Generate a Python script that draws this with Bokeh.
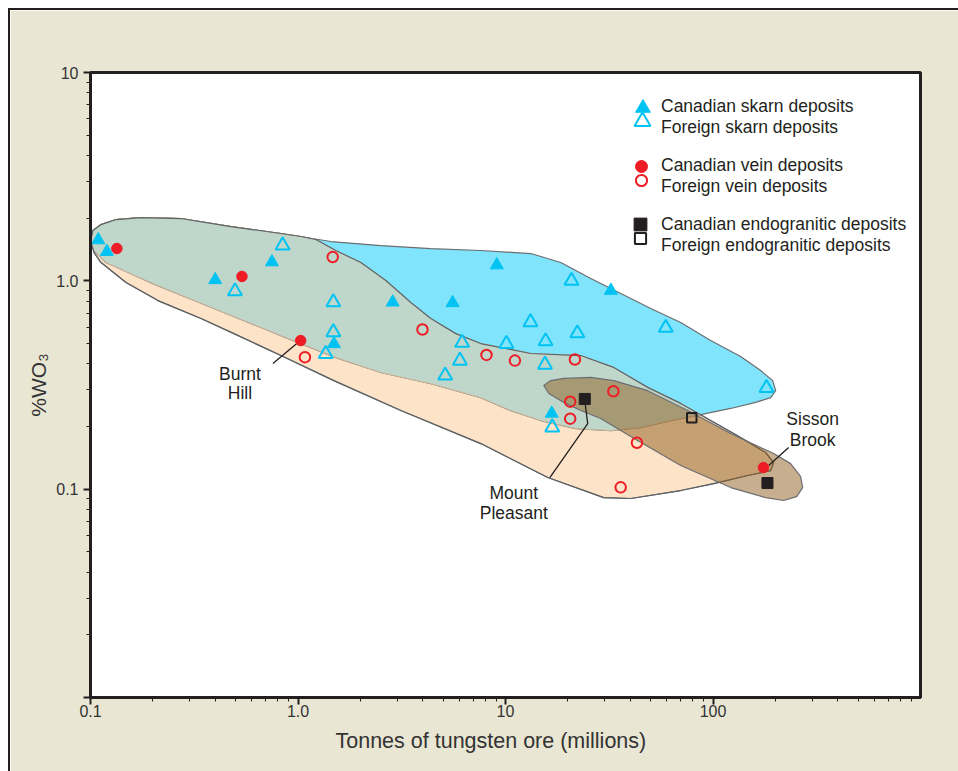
from bokeh.plotting import figure
from bokeh.models import FixedTicker, Legend, LegendItem, Title
from bokeh.core.properties import value
from bokeh.embed import file_html
from bokeh.resources import INLINE

FONT = "Liberation Sans"
INK = "#231f20"

# ---- axis ticks ----
x_major = [0.1, 1, 10, 100]
x_major_labels = ["0.1", "1.0", "10", "100"]
x_minor = [0.2, 0.3, 0.4, 0.5, 0.6, 0.7, 0.8, 0.9,
           2, 3, 4, 5, 6, 7, 8, 9,
           20, 30, 40, 50, 60, 70, 80, 90,
           200, 300, 400, 500, 600, 700, 800, 900]
y_major = [0.01, 0.1, 1, 10]
y_major_labels = ["", "0.1", "1.0", "10"]
y_minor = [0.02, 0.03, 0.04, 0.05, 0.06, 0.07, 0.08, 0.09,
           0.2, 0.3, 0.4, 0.5, 0.6, 0.7, 0.8, 0.9,
           2, 3, 4, 5, 6, 7, 8, 9]

# ---- deposits: tonnes of ore (millions), %WO3 ----
can_skarn_x = [0.109, 0.120, 0.399, 0.749, 1.49, 2.86, 5.56, 9.08, 16.7, 32.2]
can_skarn_y = [1.57, 1.38, 1.01, 1.23, 0.498, 0.789, 0.784, 1.19, 0.231, 0.898]

for_skarn_x = [0.497, 0.843, 1.48, 1.48, 1.36, 5.12, 6.03, 6.18, 10.1, 13.2,
               15.5, 15.6, 16.8, 20.8, 22.2, 59.2, 181]
for_skarn_y = [0.891, 1.48, 0.789, 0.567, 0.446, 0.351, 0.414, 0.504, 0.498, 0.633,
               0.396, 0.513, 0.198, 1.00, 0.560, 0.595, 0.306]

can_vein_x = [0.134, 0.537, 1.03, 175]
can_vein_y = [1.43, 1.05, 0.517, 0.127]

for_vein_x = [1.47, 1.08, 3.98, 8.10, 11.1, 21.6, 20.5, 20.5, 33.1, 43.0, 35.9]
for_vein_y = [1.30, 0.430, 0.584, 0.441, 0.414, 0.419, 0.263, 0.218, 0.295, 0.167, 0.102]

can_endo_x = [24.1, 183]
can_endo_y = [0.271, 0.107]

for_endo_x = [79.0]
for_endo_y = [0.220]

# ---- deposit fields (outlines) ----
skarn_field_x = [0.1, 0.1028, 0.1124, 0.1327, 0.1751, 0.2729, 0.4752, 0.8273, 1.441, 2.507,
                 4.367, 7.603, 13.24, 18.47, 25.76, 35.94, 50.11, 69.88, 97.47, 135.9,
                 169.7, 193.9, 200.5, 189.7, 160.6, 121.7, 87.24, 62.55, 44.85, 32.15,
                 21.81, 14.79, 10.60, 7.603, 4.367, 2.507, 1.522, 0.8745, 0.4159, 0.2000,
                 0.1483, 0.1188, 0.1040]
skarn_field_y = [1.561, 1.744, 1.862, 1.969, 2.013, 1.991, 1.822, 1.687, 1.544, 1.477,
                 1.429, 1.398, 1.352, 1.224, 1.026, 0.869, 0.736, 0.631, 0.517, 0.433,
                 0.371, 0.332, 0.297, 0.275, 0.261, 0.244, 0.2281, 0.2135, 0.1975, 0.1911,
                 0.1953, 0.2135, 0.2384, 0.275, 0.321, 0.363, 0.428, 0.534, 0.720, 0.970,
                 1.108, 1.224, 1.398]

vein_field_x = [0.1, 0.1028, 0.1124, 0.1327, 0.1751, 0.2729, 0.4752, 0.8273, 1.033, 1.219,
                1.522, 2.009, 2.651, 3.498, 4.367, 5.764, 7.603, 13.24, 23.05, 33.24,
                48.46, 69.88, 97.47, 135.9, 179.4, 196.1, 189.7, 146.9, 100.8, 69.88,
                40.13, 29.75, 15.98, 7.603, 3.131, 1.489, 0.8273, 0.4912, 0.3407, 0.2114,
                0.1483, 0.1124, 0.1040]
vein_field_y = [1.561, 1.744, 1.862, 1.969, 2.013, 1.991, 1.822, 1.687, 1.632, 1.579,
                1.398, 1.224, 1.003, 0.787, 0.659, 0.558, 0.500, 0.448, 0.438, 0.384,
                0.308, 0.258, 0.2135, 0.1769, 0.1498, 0.1342, 0.1228, 0.1163, 0.1064, 0.0985,
                0.0902, 0.0911, 0.1137, 0.1655, 0.2384, 0.332, 0.438, 0.558, 0.659, 0.804,
                0.981, 1.224, 1.367]

overlap_field_x = [0.1, 0.1028, 0.1124, 0.1327, 0.1751, 0.2729, 0.4752, 0.8273, 1.033, 1.219,
                   1.522, 2.009, 2.651, 3.498, 4.367, 5.764, 7.603, 13.24, 23.05, 33.24,
                   48.46, 69.88, 87.24, 62.55, 44.85, 32.15, 21.81, 14.79, 10.60, 7.603,
                   4.367, 2.507, 1.522, 0.8745, 0.4159, 0.2000, 0.1483, 0.1188, 0.1040]
overlap_field_y = [1.561, 1.744, 1.862, 1.969, 2.013, 1.991, 1.822, 1.687, 1.632, 1.579,
                   1.398, 1.224, 1.003, 0.787, 0.659, 0.558, 0.500, 0.448, 0.438, 0.384,
                   0.308, 0.258, 0.2281, 0.2135, 0.1975, 0.1911, 0.1953, 0.2135, 0.2384, 0.275,
                   0.321, 0.363, 0.428, 0.534, 0.720, 0.970, 1.108, 1.224, 1.398]

endo_field_x = [15.29, 16.53, 19.09, 25.76, 33.24, 48.46, 75.53, 121.7, 196.1, 236.7,
                264.5, 270.4, 253.0, 219.0, 179.4, 121.7, 69.88, 40.13, 28.78, 23.05,
                19.09, 16.17]
endo_field_y = [0.3143, 0.332, 0.340, 0.344, 0.332, 0.297, 0.2384, 0.1849, 0.1482, 0.1326,
                0.1150, 0.1018, 0.0921, 0.0882, 0.0911, 0.1018, 0.1298, 0.1788, 0.2183, 0.2384,
                0.261, 0.2877]

# ---- named deposits ----
ann_text = ["Burnt", "Hill", "Mount", "Pleasant", "Sisson", "Brook"]
ann_x = [0.525, 0.525, 10.96, 10.96, 302, 302]
ann_y = [0.359, 0.288, 0.0963, 0.0772, 0.216, 0.173]

leader_xs = [[0.757, 1.0], [24.1, 24.9, 16.35], [231.5, 185.5]]
leader_ys = [[0.401, 0.5055], [0.266, 0.2065, 0.1137], [0.1583, 0.1298]]

legend_labels = ["Canadian skarn deposits", "Foreign skarn deposits",
                 "Canadian vein deposits", "Foreign vein deposits",
                 "Canadian endogranitic deposits", "Foreign endogranitic deposits"]

# ---- figure ----
p = figure(x_axis_type="log", y_axis_type="log",
           x_range=(0.1, 1000), y_range=(0.01, 10),
           frame_width=830, frame_height=625,
           min_border_left=80, min_border_top=62, min_border_right=38, min_border_bottom=74,
           output_backend="svg", toolbar_location=None,
           background_fill_color="white", border_fill_color="#e9e6d3",
           outline_line_color=INK, outline_line_width=3)
p.styles = {"margin-left": "8px", "margin-top": "8px",
            "border-left": "2px solid #231f20", "border-top": "2px solid #231f20"}
p.grid.visible = False

for ax in (p.xaxis[0], p.yaxis[0]):
    ax.axis_line_color = INK
    ax.axis_line_width = 3
    ax.major_tick_line_color = INK
    ax.major_tick_line_width = 2
    ax.major_tick_out = 7
    ax.major_tick_in = 0
    ax.minor_tick_line_color = INK
    ax.minor_tick_line_width = 1
    ax.minor_tick_out = 4
    ax.minor_tick_in = 0
    ax.major_label_text_font = FONT
    ax.major_label_text_font_size = "16px"
    ax.major_label_text_color = "#333333"
    ax.axis_label_text_font = FONT
    ax.axis_label_text_font_style = "normal"
    ax.axis_label_text_color = "#333333"
    ax.axis_label_text_font_size = "21px"

p.xaxis.ticker = FixedTicker(ticks=x_major, minor_ticks=x_minor)
p.xaxis.major_label_overrides = {t: l for t, l in zip(x_major, x_major_labels)}
p.xaxis.major_label_standoff = 0

p.add_layout(Title(text="Tonnes of tungsten ore (millions)", align="left", offset=245,
                   standoff=15, text_font=FONT, text_font_style="normal",
                   text_font_size="21.5px", text_color="#333333"), "below")

p.yaxis.ticker = FixedTicker(ticks=y_major, minor_ticks=y_minor)
p.yaxis.major_label_overrides = {t: l for t, l in zip(y_major, y_major_labels)}
p.yaxis.major_label_standoff = 5
p.yaxis.axis_label = "%WO\u2083"
p.yaxis.axis_label_standoff = 3

GRAY = "#6d6e71"
p.patch(vein_field_x, vein_field_y, fill_color="#fde3c8", line_color=GRAY, line_width=1.2)
p.patch(skarn_field_x, skarn_field_y, fill_color="#80e4fc", line_color=GRAY, line_width=1.2)
p.patch(overlap_field_x, overlap_field_y, fill_color="#bfd7cb", line_color="#cdb69a", line_width=1)
p.patch(vein_field_x, vein_field_y, fill_alpha=0, line_color="#5f6466", line_width=1.2)
p.patch(endo_field_x, endo_field_y, fill_color="#8d5d1d", fill_alpha=0.5,
        line_color=GRAY, line_width=1.2)

p.multi_line(leader_xs, leader_ys, line_color=INK, line_width=1.3)

CYAN = "#00c3f3"
RED = "#ee1c24"
r_cs = p.scatter(can_skarn_x, can_skarn_y, marker="triangle", size=13,
                 fill_color=CYAN, line_color=CYAN, line_width=1)
r_fs = p.scatter(for_skarn_x, for_skarn_y, marker="triangle", size=14,
                 fill_color=None, line_color=CYAN, line_width=2)
r_cv = p.scatter(can_vein_x, can_vein_y, marker="circle", size=10.5,
                 fill_color=RED, line_color=RED, line_width=1)
r_fv = p.scatter(for_vein_x, for_vein_y, marker="circle", size=10.5,
                 fill_color=None, line_color=RED, line_width=2)
r_ce = p.scatter(can_endo_x, can_endo_y, marker="square", size=11,
                 fill_color=INK, line_color=INK, line_width=1)
r_fe = p.scatter(for_endo_x, for_endo_y, marker="square", size=9.5,
                 fill_color=None, line_color=INK, line_width=2)

p.text(ann_x, ann_y, text=ann_text, text_font=value(FONT), text_font_size="17.5px",
       text_color=INK, text_align="center", text_baseline="middle")

# ---- legend: glyph keys and labels placed separately ----
legend_renderers = [r_cs, r_fs, r_cv, r_fv, r_ce, r_fe]
key_box = [37, 40, 30, 28, 32, 28]
key_loc = [(533.5, 571.5), (532, 556), (536, 516), (537, 503), (534, 457), (536, 445)]
for r, g, loc in zip(legend_renderers, key_box, key_loc):
    p.add_layout(Legend(items=[LegendItem(label=" ", renderers=[r])], location=loc,
                        glyph_width=g, glyph_height=g, padding=0, margin=0, spacing=0,
                        label_standoff=0, label_text_font_size="1px",
                        border_line_alpha=0, background_fill_alpha=0))

blank = p.scatter([], [], marker="circle", size=1, fill_alpha=0, line_alpha=0)
label_loc = [(551, 559), (551, 500), (551, 441)]
for k, loc in enumerate(label_loc):
    labs = legend_labels[2 * k:2 * k + 2]
    p.add_layout(Legend(items=[LegendItem(label=l, renderers=[blank]) for l in labs],
                        location=loc, orientation="vertical",
                        glyph_width=20, glyph_height=20, label_height=20, spacing=0,
                        padding=0, margin=0, label_standoff=0,
                        label_text_font=FONT, label_text_font_size="17.5px",
                        label_text_color=INK,
                        border_line_alpha=0, background_fill_alpha=0))

open("out.html", "w").write(file_html(p, INLINE))
